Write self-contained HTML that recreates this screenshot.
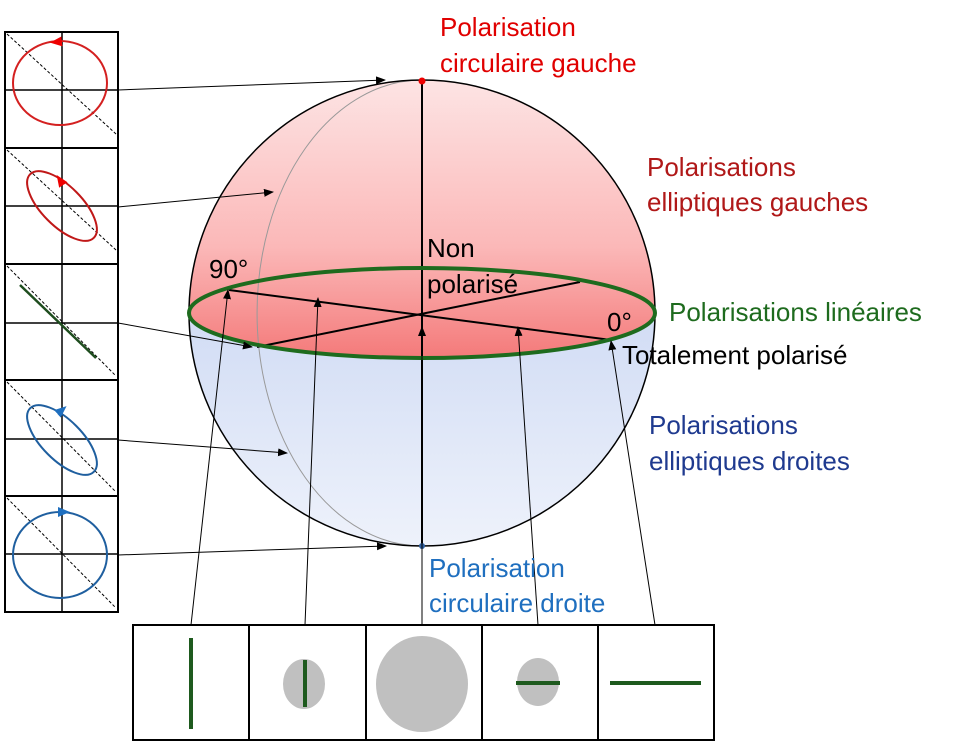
<!DOCTYPE html>
<html><head><meta charset="utf-8"><style>
html,body{margin:0;padding:0;background:#fff}
svg{display:block}
text{font-family:"Liberation Sans",sans-serif;font-size:26px}
</style></head><body>
<svg width="960" height="742" viewBox="0 0 960 742" xmlns="http://www.w3.org/2000/svg">
<defs>
<linearGradient id="gr" x1="0" y1="0" x2="0" y2="1">
<stop offset="0" stop-color="#fde4e4"/><stop offset="0.6" stop-color="#fbb8b8"/><stop offset="1" stop-color="#f47a7a"/></linearGradient>
<linearGradient id="gb" x1="0" y1="0" x2="0" y2="1">
<stop offset="0" stop-color="#b4c6ee"/><stop offset="1" stop-color="#eef2fb"/></linearGradient>
<marker id="ar" markerWidth="10" markerHeight="8" refX="9" refY="4" orient="auto" markerUnits="userSpaceOnUse"><path d="M0,0 L10,4 L0,8 z" fill="#000"/></marker>
<marker id="rr" markerWidth="12" markerHeight="10" refX="6" refY="5" orient="auto" markerUnits="userSpaceOnUse"><path d="M0,0 L12,5 L0,10 z" fill="#e00"/></marker>
<marker id="br" markerWidth="12" markerHeight="10" refX="6" refY="5" orient="auto" markerUnits="userSpaceOnUse"><path d="M0,0 L12,5 L0,10 z" fill="#1f6fbf"/></marker>
</defs>
<circle cx="422" cy="313" r="233" fill="url(#gb)"/>
<path d="M189,313 A233,233 0 0 1 655,313 A233,45 0 0 1 189,313 z" fill="url(#gr)"/>
<path d="M422,80 A165,233 0 0 0 422,546" fill="none" stroke="#999" stroke-width="1"/>
<circle cx="422" cy="313" r="233" fill="none" stroke="#000" stroke-width="1.5"/>
<line x1="422" y1="81" x2="422" y2="546" stroke="#000" stroke-width="2"/>
<line x1="229" y1="290" x2="611" y2="340" stroke="#000" stroke-width="2"/>
<line x1="257" y1="347" x2="580" y2="282" stroke="#000" stroke-width="2"/>
<ellipse cx="422" cy="313" rx="233" ry="45" fill="none" stroke="#1e6b1e" stroke-width="4"/>
<circle cx="422" cy="81" r="3.5" fill="#e00"/>
<circle cx="422" cy="546" r="3" fill="#2f5f9f"/>
<g stroke="#000" stroke-width="2" fill="none">
<rect x="5" y="32" width="113" height="580"/>
<line x1="5" y1="148" x2="118" y2="148"/><line x1="5" y1="264" x2="118" y2="264"/>
<line x1="5" y1="380" x2="118" y2="380"/><line x1="5" y1="496" x2="118" y2="496"/>
<line x1="62" y1="32" x2="62" y2="612" stroke-width="1.5"/>
<line x1="5" y1="90" x2="118" y2="90" stroke-width="1.5"/><line x1="5" y1="206" x2="118" y2="206" stroke-width="1.5"/>
<line x1="5" y1="323" x2="118" y2="323" stroke-width="1.5"/><line x1="5" y1="439" x2="118" y2="439" stroke-width="1.5"/>
<line x1="5" y1="554" x2="118" y2="554" stroke-width="1.5"/>
</g>
<g stroke="#000" stroke-width="1" stroke-dasharray="3,2">
<line x1="7" y1="34" x2="116" y2="134"/><line x1="7" y1="150" x2="116" y2="250"/>
<line x1="7" y1="266" x2="116" y2="376"/><line x1="7" y1="382" x2="116" y2="492"/>
<line x1="7" y1="498" x2="116" y2="608"/>
</g>
<ellipse cx="60" cy="83" rx="47" ry="42" fill="none" stroke="#d42020" stroke-width="2"/>
<path d="M66,41 L56,42" fill="none" marker-end="url(#rr)"/>
<ellipse cx="62" cy="206" rx="45" ry="20" transform="rotate(45 62 206)" fill="none" stroke="#c01818" stroke-width="2"/>
<path d="M64,186 L60,180" fill="none" marker-end="url(#rr)"/>
<line x1="20" y1="285" x2="96" y2="358" stroke="#1e4d1e" stroke-width="2.5"/>
<ellipse cx="62" cy="440" rx="45" ry="20" transform="rotate(45 62 440)" fill="none" stroke="#1f5f9f" stroke-width="2"/>
<path d="M55,416 L62,410" fill="none" marker-end="url(#br)"/>
<ellipse cx="60" cy="555" rx="47" ry="43" fill="none" stroke="#1f5f9f" stroke-width="2"/>
<path d="M54,512 L64,512" fill="none" marker-end="url(#br)"/>
<g stroke="#000" stroke-width="1" fill="none" marker-end="url(#ar)">
<line x1="118" y1="90" x2="385" y2="80"/>
<line x1="118" y1="207" x2="273" y2="192"/>
<line x1="118" y1="323" x2="252" y2="347"/>
<line x1="118" y1="440" x2="287" y2="453"/>
<line x1="118" y1="555" x2="386" y2="546"/>
<line x1="191" y1="625" x2="228" y2="290"/>
<line x1="305" y1="625" x2="318" y2="298"/>
<line x1="422" y1="625" x2="422" y2="327"/>
<line x1="538" y1="625" x2="518" y2="327"/>
<line x1="655" y1="625" x2="611" y2="341"/>
</g>
<g stroke="#000" stroke-width="2" fill="none">
<rect x="133" y="625" width="581" height="115"/>
<line x1="249" y1="625" x2="249" y2="740"/><line x1="366" y1="625" x2="366" y2="740"/>
<line x1="482" y1="625" x2="482" y2="740"/><line x1="598" y1="625" x2="598" y2="740"/>
</g>
<line x1="191" y1="638" x2="191" y2="729" stroke="#1e5a1e" stroke-width="4"/>
<ellipse cx="304" cy="684" rx="21" ry="25" fill="#c0c0c0"/>
<line x1="305" y1="660" x2="305" y2="707" stroke="#1e5a1e" stroke-width="4"/>
<ellipse cx="422" cy="684" rx="46" ry="48" fill="#c0c0c0"/>
<ellipse cx="538" cy="682" rx="21" ry="24" fill="#c0c0c0"/>
<line x1="516" y1="683" x2="560" y2="683" stroke="#1e5a1e" stroke-width="4"/>
<line x1="610" y1="683" x2="701" y2="683" stroke="#1e5a1e" stroke-width="4"/>
<text x="440" y="36" fill="#e00000">Polarisation</text>
<text x="440" y="72" fill="#e00000">circulaire gauche</text>
<text x="647" y="176" fill="#b01818">Polarisations</text>
<text x="647" y="211" fill="#b01818">elliptiques gauches</text>
<text x="669" y="321" fill="#1e6b1e">Polarisations linéaires</text>
<text x="622" y="364" fill="#000">Totalement polarisé</text>
<text x="649" y="434" fill="#1f3a8f">Polarisations</text>
<text x="649" y="470" fill="#1f3a8f">elliptiques droites</text>
<text x="429" y="577" fill="#1f6fbf">Polarisation</text>
<text x="429" y="612" fill="#1f6fbf">circulaire droite</text>
<text x="427" y="257" fill="#000">Non</text>
<text x="427" y="293" fill="#000">polarisé</text>
<text x="209" y="278" fill="#000">90°</text>
<text x="607" y="331" fill="#000">0°</text>
</svg>
</body></html>
